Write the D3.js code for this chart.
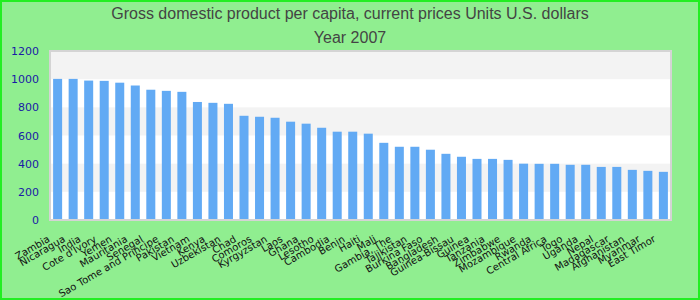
<!DOCTYPE html>
<html>
<head>
<meta charset="utf-8">
<script src="https://cdnjs.cloudflare.com/ajax/libs/d3/7.8.5/d3.min.js"></script>
<style>
	body { margin: 0; background: #fff; }
	svg { display: block; }
</style>
</head>
<body>
<svg id="chart" width="700" height="300"></svg>
<script>
//------------------------------------------------------------------------------
// Data

var titleLines = ['Gross domestic product per capita, current prices Units U.S. dollars', 'Year 2007'];

var countries = [
	'Zambia', 'Nicaragua', 'India', 'Cote d\'Ivory', 'Yemen', 'Mauritania', 'Senegal',
	'Sao Tome and Principe', 'Pakistan', 'Vietnam', 'Kenya', 'Uzbekistan', 'Chad',
	'Comoros', 'Kyrgyzstan', 'Laos', 'Ghana', 'Lesotho', 'Cambodia', 'Benin', 'Haiti',
	'Mali', 'Gambia, The', 'Tajikistan', 'Burkina Faso', 'Bangladesh', 'Guinea-Bissau',
	'Guinea', 'Tanzania', 'Zimbabwe', 'Mozambique', 'Rwanda', 'Central Africa', 'Togo',
	'Uganda', 'Nepal', 'Madagascar', 'Afghanistan', 'Myanmar', 'East Timor'
];

var gdp = [
	1002, 1002, 990, 988, 975, 955, 925,
	917, 910, 838, 832, 825, 740,
	733, 726, 698, 684, 655, 627, 627, 613,
	548, 520, 520, 499, 470, 449,
	434, 434, 427, 400, 399, 399, 392,
	392, 377, 377, 356, 349, 342
];

var yTicks = [0, 200, 400, 600, 800, 1000, 1200];

//------------------------------------------------------------------------------
// Layout

var W = 700, H = 300;
var plot = { left: 50, right: 671, top: 51, bottom: 220 };

var svg = d3.select('#chart');

svg.append('rect')
	.attr('x', 1).attr('y', 1)
	.attr('width', W - 2).attr('height', H - 2)
	.attr('fill', '#90ee90')
	.attr('stroke', '#22ee22')
	.attr('stroke-width', 2);

svg.append('g').attr('class', 'title')
	.selectAll('text')
	.data(titleLines)
	.enter().append('text')
	.attr('x', W / 2)
	.attr('y', function (d, i) { return 19 + i * 24; })
	.attr('text-anchor', 'middle')
	.attr('font-family', 'Liberation Sans, Arial, sans-serif')
	.attr('font-size', 16)
	.attr('fill', '#444')
	.text(function (d) { return d; });

var x = d3.scaleBand()
	.domain(countries)
	.range([plot.left, plot.right])
	.paddingInner(0.42)
	.paddingOuter(0.2);

var y = d3.scaleLinear()
	.domain([0, 1200])
	.range([plot.bottom, plot.top]);

//------------------------------------------------------------------------------
// Plot background (alternating bands)

svg.append('rect')
	.attr('x', plot.left).attr('y', plot.top)
	.attr('width', plot.right - plot.left)
	.attr('height', plot.bottom - plot.top)
	.attr('fill', '#fff');

var bands = d3.pairs(yTicks).filter(function (p, i) { return i % 2 == 1; });

svg.append('g').attr('class', 'bands')
	.selectAll('rect')
	.data(bands)
	.enter().append('rect')
	.attr('x', plot.left)
	.attr('width', plot.right - plot.left)
	.attr('y', function (d) { return y(d[1]); })
	.attr('height', function (d) { return y(d[0]) - y(d[1]); })
	.attr('fill', '#f3f3f3');

//------------------------------------------------------------------------------
// Bars

svg.append('g').attr('class', 'bars')
	.selectAll('rect')
	.data(gdp)
	.enter().append('rect')
	.attr('x', function (d, i) { return x(countries[i]); })
	.attr('width', x.bandwidth())
	.attr('y', function (d) { return y(d); })
	.attr('height', function (d) { return y(0) - y(d); })
	.attr('fill', '#62aaf4');

svg.append('rect')
	.attr('x', plot.left).attr('y', plot.top)
	.attr('width', plot.right - plot.left)
	.attr('height', plot.bottom - plot.top)
	.attr('fill', 'none')
	.attr('stroke', '#d4d4d4')
	.attr('stroke-width', 2);

//------------------------------------------------------------------------------
// Axes

var yAxis = svg.append('g')
	.attr('transform', 'translate(' + (plot.left - 11) + ',0)')
	.call(d3.axisLeft(y).tickValues(yTicks).tickFormat(d3.format('d'))
		.tickSize(0).tickPadding(0));
yAxis.select('.domain').remove();
yAxis.selectAll('text')
	.attr('font-family', 'DejaVu Sans, sans-serif')
	.attr('font-size', 11)
	.attr('fill', '#1a1aa6');

var xAxis = svg.append('g')
	.attr('transform', 'translate(0,' + plot.bottom + ')')
	.call(d3.axisBottom(x).tickSize(0).tickPadding(0));
xAxis.select('.domain').remove();
xAxis.selectAll('text')
	.attr('font-family', 'DejaVu Sans, sans-serif')
	.attr('font-size', 10)
	.attr('fill', '#111')
	.attr('text-anchor', 'end')
	.attr('dy', null)
	.attr('y', 0)
	.attr('transform', 'translate(-7,21) rotate(-30)');
</script>
</body>
</html>
